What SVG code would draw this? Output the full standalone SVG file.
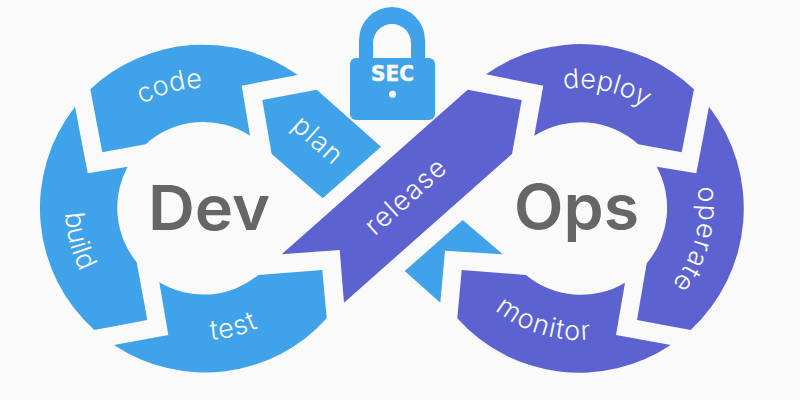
<svg xmlns="http://www.w3.org/2000/svg" width="800" height="400" viewBox="0 0 800 400">
<style>
.b{fill:#40a2e8}
.p{fill:#5c62cf}
.l{font-family:"Inter","Liberation Sans",sans-serif;font-weight:300;font-size:27px;fill:#fafafa;letter-spacing:1.2px;text-anchor:middle}
.n{letter-spacing:0}
.t{font-family:"Inter","Liberation Sans",sans-serif;font-weight:600;font-size:62px;fill:#666}
.g{fill:none}
</style>
<defs>
<path id="pc" class="g" d="M102.3 142.6A120 120 0 0 1 249.9 97.5"/>
<path id="pd" class="g" d="M523.6 101.6A120 120 0 0 1 674.2 135"/>
<path id="pb" class="g" d="M79 147.5A138 138 0 0 0 121.9 319.6"/>
<path id="pt" class="g" d="M144.1 326.1A132 132 0 0 0 309.1 286.5"/>
<path id="pm" class="g" d="M468.3 280A132 132 0 0 0 630.6 329.5"/>
<path id="po" class="g" d="M677.3 139.1A120 120 0 0 1 629.7 316.7"/>
</defs>
<rect width="800" height="400" fill="#fafafa"/>
<g id="code"><path class="b" d="M90.3 89.3A164 164 0 0 1 297.7 75L241.7 85.7L250 135.7A86 86 0 0 0 145.7 144.3L102.3 152.3Z"/><text class="l n"><textPath href="#pc" startOffset="52%">code</textPath></text></g>
<g id="plan"><path class="b" d="M262.3 100L316.7 89.7L381 146.7L322.7 198.3L271.7 154Z"/><text class="l" transform="translate(312 147) rotate(42)">plan</text></g>
<g id="build"><path class="b" d="M75 106.7L87.7 173.3L127.7 166.7A86 86 0 0 0 136.7 262.3L147.3 320L94.3 330A164 164 0 0 1 75 106.7Z"/><text class="l n"><textPath href="#pb" startOffset="51%">build</textPath></text></g>
<g id="test"><path class="b" d="M159.3 282.3A86 86 0 0 0 258.3 275L322.3 270L326.7 318.3A164 164 0 0 1 114 345L168.3 335Z"/><text class="l"><textPath href="#pt" startOffset="51%">test</textPath></text></g>
<g id="release"><path class="p" d="M281.7 254.3L339.7 250L344 302.7L512 154L521.7 100L467.7 89.7Z"/><text class="l" transform="translate(412 203) rotate(-42)">release</text></g>
<g id="deploy"><path class="p" d="M486 74.3A164 164 0 0 1 694 89.3L681.7 152.3L638.3 144.3A86 86 0 0 0 534.3 135.7L543.3 85.7Z"/><text class="l n"><textPath href="#pd" startOffset="50.5%">deploy</textPath></text></g>
<g id="operate"><path class="p" d="M709 106.7A166 166 0 0 1 690.7 330L637 320L646.7 263.3A86 86 0 0 0 656.7 166.7L696.3 173.3Z"/><text class="l"><textPath href="#po" startOffset="50%">operate</textPath></text></g>
<g id="monitor"><path class="p" d="M461.7 270L526 275A86 86 0 0 0 625 282.7L616 335L670.7 345A164 164 0 0 1 457.3 318.3Z"/><text class="l"><textPath href="#pm" startOffset="50%">monitor</textPath></text></g>
<g id="arrow"><path class="b" d="M462.7 220L502.7 254.3L445 250.7L440.3 302.7L404.7 271Z"/></g>
<g id="lock">
<path class="b" d="M359 62V40A33 33 0 0 1 425 40V62H411V43A19 19 0 0 0 373 43V62Z"/>
<rect class="b" x="350" y="58" width="85" height="62" rx="6"/>
<text x="392.5" y="81" font-family="'DejaVu Sans',sans-serif" font-weight="700" font-size="20.5" fill="#fafafa" stroke="#fafafa" stroke-width="0.5" text-anchor="middle" textLength="43" lengthAdjust="spacingAndGlyphs">SEC</text>
<circle cx="392.5" cy="94.3" r="3.5" fill="#fafafa"/>
</g>
<g id="labels"><text class="t" x="148" y="230" textLength="122" lengthAdjust="spacingAndGlyphs">Dev</text><text class="t" x="514" y="229" textLength="125" lengthAdjust="spacingAndGlyphs">Ops</text></g>
</svg>
